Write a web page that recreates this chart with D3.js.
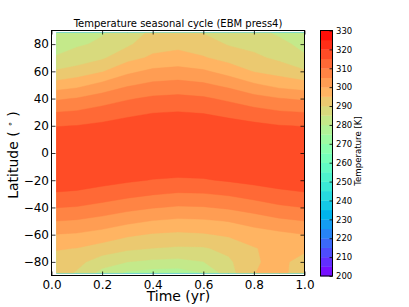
<!DOCTYPE html>
<meta charset="utf-8" />
<script src="https://d3js.org/d3.v7.min.js"></script>
<body style="margin: 0; background-color: #ffffff">
  <div id="my_dataviz"></div>
  <script>
    // time of year (columns) and latitude (rows, north to south)
    var times = [0.02, 0.1, 0.2, 0.3, 0.4, 0.5, 0.6, 0.7, 0.8, 0.9, 1.0];
    var lats = [88, 80, 70, 60, 50, 40, 30, 20, 10, 0, -10, -20, -30, -40, -50, -60, -70, -80, -88];

    // temperature [K], one list per time column, values from lat 88 down to -88
    var temp = [
      [282.0, 283.3, 285.4, 290.6, 297.2, 304.3, 310.0, 314.8, 317.7, 319.1, 319.1, 317.6, 314.6, 310.1, 305.0, 299.8, 295.4, 293.0, 292.5],
      [283.6, 284.4, 287.0, 292.1, 298.5, 305.3, 310.6, 315.1, 317.9, 319.2, 319.0, 317.4, 314.2, 309.7, 304.5, 299.4, 294.9, 291.5, 289.5],
      [284.7, 285.7, 289.3, 294.6, 301.5, 307.4, 312.2, 316.0, 318.4, 319.3, 318.7, 316.6, 313.0, 308.3, 303.1, 298.0, 292.9, 287.4, 283.5],
      [287.3, 289.1, 293.3, 298.8, 304.4, 309.5, 313.8, 316.9, 318.8, 319.3, 318.2, 315.7, 311.6, 306.6, 301.3, 295.8, 291.0, 285.0, 279.2],
      [291.2, 293.1, 295.8, 301.1, 306.2, 310.9, 314.8, 317.6, 319.1, 319.1, 317.7, 314.8, 310.4, 305.3, 299.8, 294.5, 290.0, 284.0, 277.8],
      [292.3, 293.8, 296.6, 301.8, 306.8, 311.3, 315.1, 317.8, 319.2, 319.0, 317.4, 314.4, 309.6, 304.5, 299.0, 294.0, 289.4, 283.6, 277.5],
      [289.9, 292.2, 295.4, 300.7, 305.9, 310.7, 314.7, 317.6, 319.1, 319.1, 317.6, 314.6, 309.8, 304.7, 299.3, 294.5, 289.5, 284.9, 280.0],
      [288.0, 289.6, 293.1, 298.0, 303.8, 309.0, 313.4, 317.1, 318.9, 319.3, 318.1, 315.5, 310.7, 305.7, 300.2, 295.7, 291.5, 289.0, 288.0],
      [286.5, 288.4, 291.1, 294.7, 300.8, 306.8, 311.8, 316.2, 318.5, 319.3, 318.6, 316.5, 312.2, 307.3, 302.1, 297.5, 294.7, 294.6, 294.9],
      [284.3, 286.3, 288.9, 293.0, 298.4, 305.2, 310.5, 315.2, 318.0, 319.2, 319.0, 317.3, 313.7, 309.1, 303.9, 298.7, 296.6, 296.0, 296.1],
      [282.3, 283.6, 285.7, 290.6, 297.1, 304.2, 309.9, 314.8, 317.7, 319.1, 319.1, 317.6, 314.6, 310.1, 305.0, 299.9, 295.8, 293.5, 293.0]
    ];

    var levels = [200, 205, 210, 215, 220, 225, 230, 235, 240, 245, 250, 255, 260, 265, 270, 275, 280, 285, 290, 295, 300, 305, 310, 315, 320, 325, 330];
    var cbTicks = [200, 210, 220, 230, 240, 250, 260, 270, 280, 290, 300, 310, 320, 330];
    var latTicks = [-80, -60, -40, -20, 0, 20, 40, 60, 80];
    var timeTicks = [0.0, 0.2, 0.4, 0.6, 0.8, 1.0];

    var font = "DejaVu Sans, sans-serif";

    // matplotlib "rainbow" colormap
    function rainbow(v) {
      var r = Math.min(1, Math.abs(2 * v - 0.5));
      var g = Math.max(0, Math.sin(v * Math.PI));
      var b = Math.max(0, Math.cos((v * Math.PI) / 2));
      return d3.rgb(r * 255, g * 255, b * 255);
    }
    var vmin = levels[0], vmax = levels[levels.length - 1];
    function bandColor(lo) {
      return rainbow((lo + 2.5 - vmin) / (vmax - vmin));
    }

    var svg = d3
      .select("#my_dataviz")
      .append("svg")
      .attr("width", 409)
      .attr("height", 307);

    var x = d3.scaleLinear().domain([0, 1]).range([51.5, 304.5]);
    var y = d3.scaleLinear().domain([-90, 90]).range([275.5, 30.5]);

    // grid for the contouring
    var n = times.length, m = lats.length;
    var values = new Array(n * m);
    for (var j = 0; j < m; j++) {
      for (var i = 0; i < n; i++) values[j * n + i] = temp[i][j];
    }
    var colToTime = d3.scaleLinear().domain(d3.range(n)).range(times);
    var rowToLat = d3.scaleLinear().domain(d3.range(m)).range(lats);

    var proj = d3.geoTransform({
      point: function (px, py) {
        var ci = Math.max(0, Math.min(n - 1, px - 0.5));
        var rj = Math.max(0, Math.min(m - 1, py - 0.5));
        this.stream.point(x(colToTime(ci)), y(rowToLat(rj)));
      }
    });
    var path = d3.geoPath(proj);

    var contours = d3.contours().size([n, m]).thresholds(levels)(values);

    svg
      .append("g")
      .selectAll("path")
      .data(contours)
      .enter()
      .append("path")
      .attr("d", path)
      .attr("fill", function (d) {
        return bandColor(d.value);
      })
      .attr("stroke", function (d) {
        return bandColor(d.value);
      })
      .attr("stroke-width", 0.4);

    // axes, ticks pointing inwards on all four sides
    svg
      .append("g")
      .attr("transform", "translate(" + x.range()[0] + ",0)")
      .call(d3.axisLeft(y).tickValues(latTicks).tickSize(-4).tickPadding(2.5))
      .call(function (g) {
        g.select(".domain").remove();
      });
    svg
      .append("g")
      .attr("transform", "translate(" + x.range()[1] + ",0)")
      .call(d3.axisRight(y).tickValues(latTicks).tickSize(-4).tickFormat(""))
      .call(function (g) {
        g.select(".domain").remove();
      });
    svg
      .append("g")
      .attr("transform", "translate(0," + y.range()[0] + ")")
      .call(
        d3.axisBottom(x).tickValues(timeTicks).tickSize(-4).tickPadding(5).tickFormat(d3.format(".1f"))
      )
      .call(function (g) {
        g.select(".domain").remove();
      });
    svg
      .append("g")
      .attr("transform", "translate(0," + y.range()[1] + ")")
      .call(d3.axisTop(x).tickValues(timeTicks).tickSize(-4).tickFormat(""))
      .call(function (g) {
        g.select(".domain").remove();
      });
    svg
      .selectAll(".tick text")
      .attr("font-family", font)
      .attr("font-size", 12)
      .attr("fill", "#000");
    svg.selectAll(".tick line").attr("stroke", "#000").attr("stroke-width", 0.8);

    svg
      .append("rect")
      .attr("x", x.range()[0])
      .attr("y", y.range()[1])
      .attr("width", x.range()[1] - x.range()[0])
      .attr("height", y.range()[0] - y.range()[1])
      .attr("fill", "none")
      .attr("stroke", "#000")
      .attr("stroke-width", 1);

    // title and axis labels
    svg
      .append("text")
      .attr("x", 178)
      .attr("y", 27)
      .attr("text-anchor", "middle")
      .attr("font-family", font)
      .attr("font-size", 10)
      .text("Temperature seasonal cycle (EBM press4)");

    svg
      .append("text")
      .attr("x", 178.5)
      .attr("y", 301)
      .attr("text-anchor", "middle")
      .attr("font-family", font)
      .attr("font-size", 14)
      .text("Time (yr)");

    var ylab = svg
      .append("text")
      .attr("transform", "translate(17.5,155) rotate(-90)")
      .attr("text-anchor", "middle")
      .attr("font-family", font)
      .attr("font-size", 14);
    ylab.append("tspan").text("Latitude ( ");
    ylab.append("tspan").attr("font-size", 9).attr("dy", -5).text("∘");
    ylab.append("tspan").attr("dy", 5).text(" )");

    // colorbar
    var cbX = 320.5, cbW = 12;
    var cy = d3.scaleLinear().domain([vmin, vmax]).range([276, 30.5]);
    var cb = svg.append("g");
    cb.selectAll("rect")
      .data(levels.slice(0, -1))
      .enter()
      .append("rect")
      .attr("x", cbX)
      .attr("y", function (d) {
        return cy(d + 5);
      })
      .attr("width", cbW)
      .attr("height", function (d) {
        return cy(d) - cy(d + 5) + 0.3;
      })
      .attr("fill", function (d) {
        return bandColor(d);
      });
    cb.append("rect")
      .attr("x", cbX)
      .attr("y", cy(vmax))
      .attr("width", cbW)
      .attr("height", cy(vmin) - cy(vmax))
      .attr("fill", "none")
      .attr("stroke", "#000")
      .attr("stroke-width", 1);
    cb.append("g")
      .attr("transform", "translate(" + (cbX + cbW) + ",0)")
      .call(d3.axisRight(cy).tickValues(cbTicks).tickSize(-3).tickPadding(3.5))
      .call(function (g) {
        g.select(".domain").remove();
        g.selectAll("line").attr("stroke", "#000").attr("stroke-width", 0.8);
        g.selectAll("text").attr("font-family", font).attr("font-size", 8.5).attr("fill", "#000");
      });
    svg
      .append("text")
      .attr("transform", "translate(360.5,151) rotate(-90)")
      .attr("text-anchor", "middle")
      .attr("font-family", font)
      .attr("font-size", 8.6)
      .text("Temperature [K]");
  </script>
</body>
